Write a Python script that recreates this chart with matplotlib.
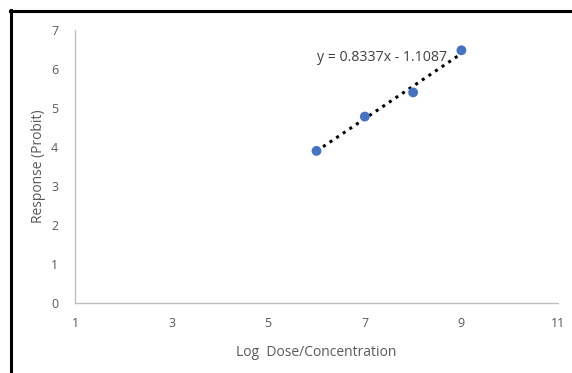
import matplotlib
matplotlib.use("Agg")
import matplotlib.pyplot as plt
from matplotlib.lines import Line2D
import numpy as np

plt.rcParams['font.family'] = ['Open Sans', 'DejaVu Sans']

log_dose = [6, 7, 8, 9]
probit = [3.9, 4.78, 5.4, 6.48]
x_ticks = [1, 3, 5, 7, 9, 11]
y_ticks = [0, 1, 2, 3, 4, 5, 6, 7]
slope, intercept = 0.8337, -1.1087
eq_label = "y = 0.8337x - 1.1087"

fig = plt.figure(figsize=(5.72, 3.73), dpi=100)
ax = fig.add_axes([75/572, 70/373, 483/572, 273/373])

tx = np.array([log_dose[0], log_dose[-1]])
ax.plot(tx, slope*tx + intercept, color='black', linestyle=(0, (1, 1.6)), linewidth=2.2, zorder=2)
ax.scatter(log_dose, probit, s=50, color='#4472C4', zorder=3, edgecolors='none')
ax.text(6.02, 6.3, eq_label, fontsize=10.2, color='#404040', va='center', ha='left')

ax.set_xlim(1, 11)
ax.set_ylim(0, 7)
ax.set_xticks(x_ticks)
ax.set_yticks(y_ticks)
for s in ['top', 'right']:
    ax.spines[s].set_visible(False)
for s in ['left', 'bottom']:
    ax.spines[s].set_color('#BFBFBF')
    ax.spines[s].set_linewidth(1.0)
ax.tick_params(length=0, labelsize=9, labelcolor='#595959', pad=10)
ax.tick_params(axis='y', pad=12)
ax.set_xlabel('Log  Dose/Concentration', fontsize=10, color='#595959', labelpad=11)
ax.set_ylabel('Response (Probit)', fontsize=10, color='#595959', labelpad=4)

fig.add_artist(Line2D([10/572, 1], [1 - 11/373, 1 - 11/373], color='black', linewidth=2.2))
fig.add_artist(Line2D([11/572, 11/572], [0, 1 - 10/373], color='black', linewidth=2.2))

fig.savefig('out.png', dpi=100)
